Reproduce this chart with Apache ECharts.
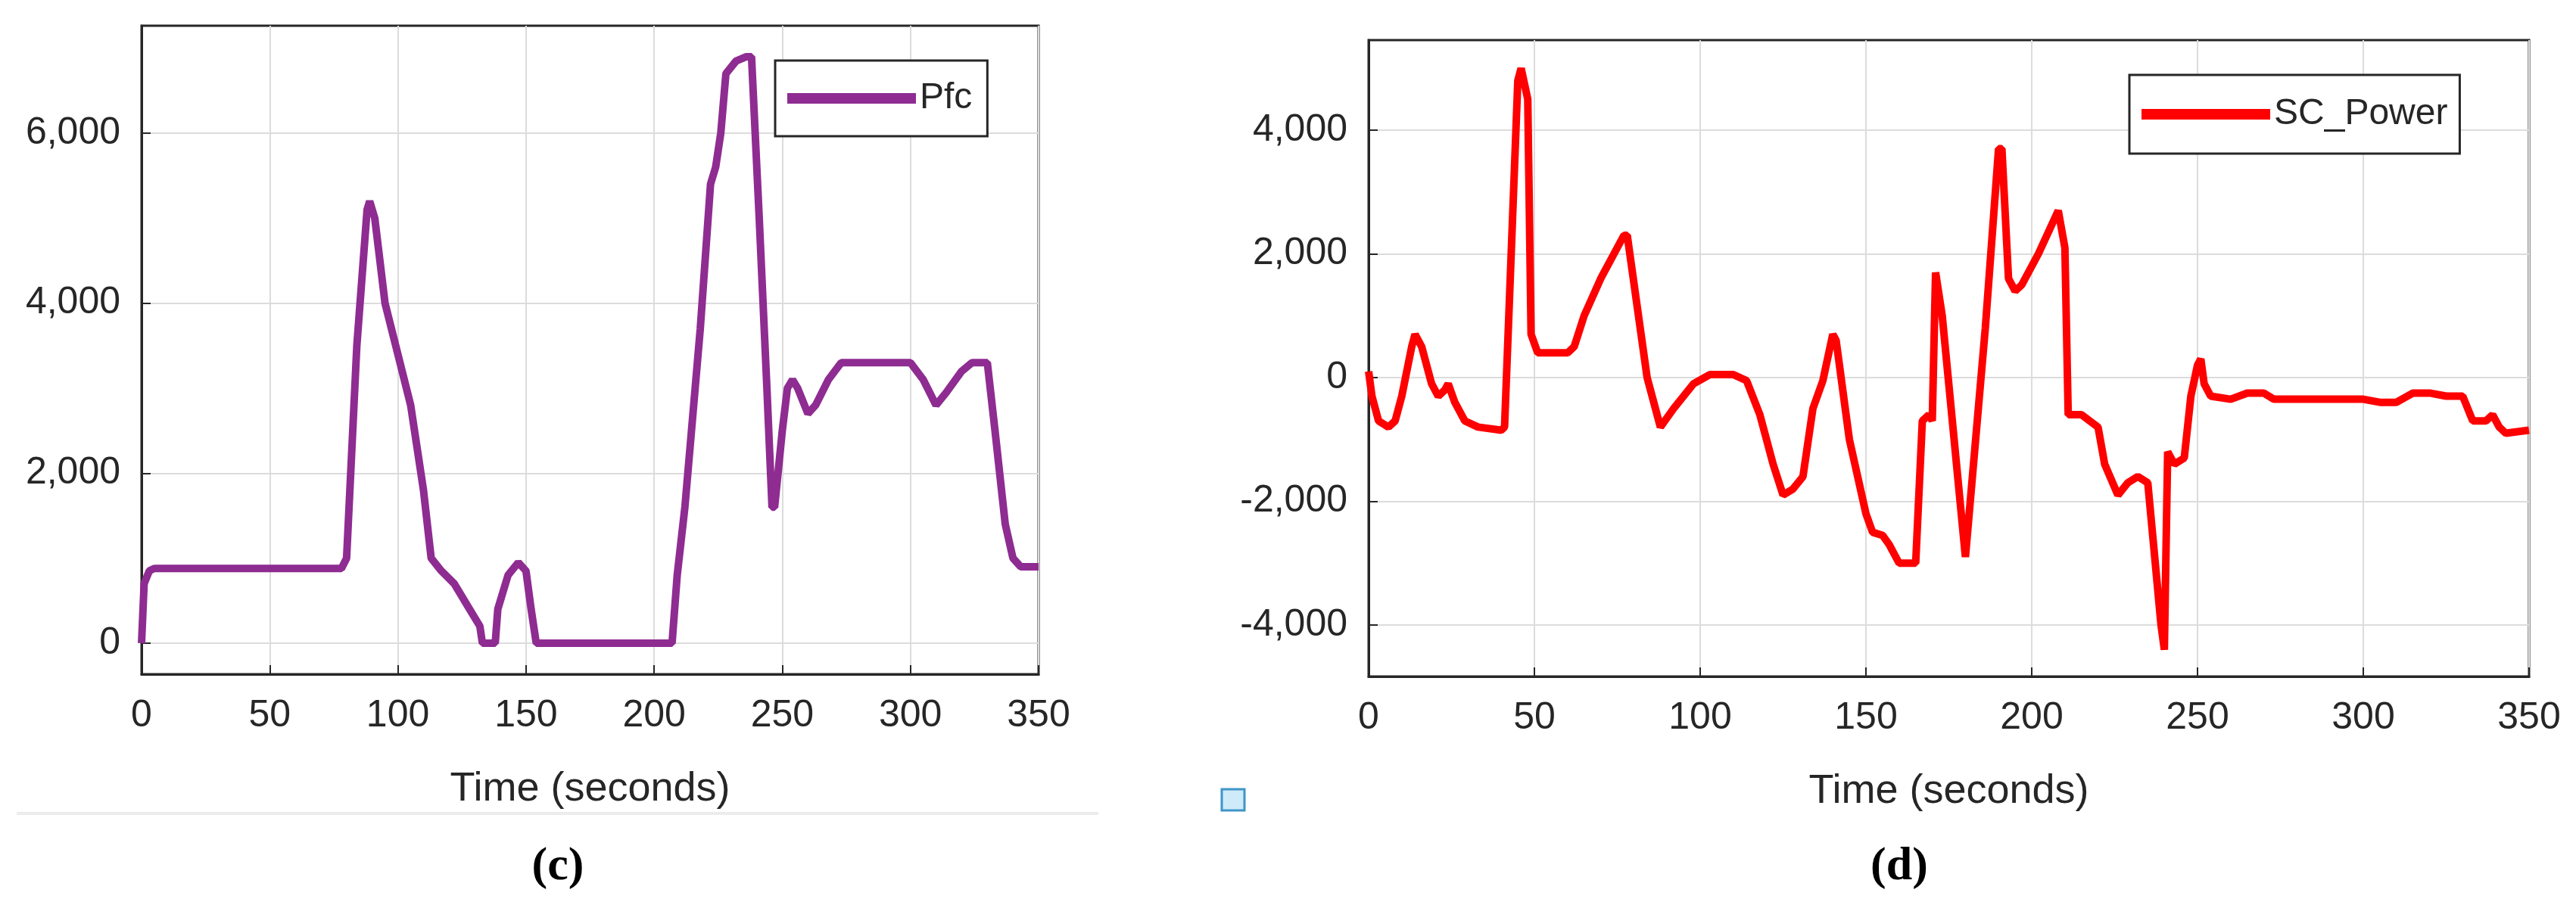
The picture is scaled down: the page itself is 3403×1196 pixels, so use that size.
<!DOCTYPE html>
<html><head><meta charset="utf-8">
<script src="https://cdn.jsdelivr.net/npm/echarts@6/dist/echarts.min.js"></script>
<style>html,body{margin:0;padding:0;background:#fff}#c{width:3403px;height:1196px}</style>
</head><body><div id="c"></div>
<script>
const xTicks = [0,50,100,150,200,250,300,350];
const pfcTicks = [0,2000,4000,6000];
const scTicks = [-4000,-2000,0,2000,4000];
const pfcT = [0,1,3,5,78,80,84,88,89,91,95,100,105,110,113,117,122,128,132,133,138,139,143,147,150,152,154,207,209,212,218,222,224,226,228,232,236,238,241,244,246,247,250,252,254,256,260,263,268,273,300,305,310,314,320,324,330,333,337,340,343,350];
const pfcV = [0,700,850,880,880,1000,3500,5100,5200,5000,4000,3400,2800,1800,1000,850,700,400,200,0,0,400,800,950,850,400,0,0,800,1600,3700,5400,5600,6000,6700,6850,6900,6900,5000,3000,1600,1600,2500,3000,3100,3000,2700,2800,3100,3300,3300,3100,2800,2950,3200,3300,3300,2500,1400,1000,900,900];
const scT = [0,1,3,6,8,10,13,14,16,19,21,23,24,26,29,33,40,41,43,45,46,48,49,51,60,62,65,70,77,78,84,88,92,98,103,110,114,118,122,125,128,131,134,137,140,141,145,150,152,155,157,160,165,167,169,170,171,173,180,186,190,191,193,195,197,202,208,210,211,215,220,222,226,229,232,235,239,240,241,243,246,248,250,251,252,254,260,265,270,273,300,305,310,315,320,325,330,333,337,339,341,343,350];
const scV = [100,-300,-700,-800,-700,-300,500,700,500,-100,-300,-200,-100,-400,-700,-800,-850,-800,2000,4800,5000,4500,700,400,400,500,1000,1600,2300,2300,0,-800,-500,-100,50,50,-50,-600,-1400,-1900,-1800,-1600,-500,-50,700,600,-1000,-2200,-2500,-2550,-2700,-3000,-3000,-700,-600,-700,1700,1000,-2900,800,3700,3700,1600,1400,1500,2000,2700,2100,-600,-600,-800,-1400,-1900,-1700,-1600,-1700,-4000,-4400,-1200,-1400,-1300,-300,200,300,-100,-300,-350,-250,-250,-350,-350,-400,-400,-250,-250,-300,-300,-700,-700,-600,-800,-900,-850];

const FONT = 'Liberation Sans';
const tc = '#262626';
function xAx(i){return {type:'value',gridIndex:i,min:0,max:350,
  axisLabel:{customValues:xTicks,fontSize:50,color:tc,fontFamily:FONT,margin:30},
  axisTick:{customValues:xTicks,inside:true,length:12,lineStyle:{color:'#262626',width:2}},
  axisLine:{onZero:false,lineStyle:{color:'#262626',width:3}},
  splitLine:{show:true,lineStyle:{color:'#dcdcdc',width:2}},
  name:'Time (seconds)',nameLocation:'middle',nameGap:125,
  nameTextStyle:{fontSize:54,color:tc,fontFamily:FONT}};}
function yAx(i,mn,mx,ticks){return {type:'value',gridIndex:i,min:mn,max:mx,
  axisLabel:{customValues:ticks,fontSize:50,color:tc,fontFamily:FONT,margin:28},
  axisTick:{customValues:ticks,inside:true,length:12,lineStyle:{color:'#262626',width:2}},
  axisLine:{show:true,lineStyle:{color:'#262626',width:3}},
  splitLine:{show:true,lineStyle:{color:'#dcdcdc',width:2}}};}

const chart = echarts.init(document.getElementById('c'));
chart.setOption({
  animation:false,
  grid:[{left:187,top:34,width:1185,height:857,show:true,borderColor:'#262626',borderWidth:3},
        {left:1808,top:53,width:1533,height:841,show:true,borderColor:'#262626',borderWidth:3}],
  xAxis:[xAx(0),xAx(1)],
  yAxis:[yAx(0,-365,7264,pfcTicks),yAx(1,-4832,5456,scTicks)],
  legend:[{data:['Pfc'],left:1024,top:80,width:303,height:82,padding:[26,20,26,16],
    borderColor:'#262626',borderWidth:3,backgroundColor:'#fff',itemWidth:170,itemHeight:14,icon:'rect',
    textStyle:{fontSize:48,color:tc,fontFamily:FONT}},
   {data:['SC_Power'],left:2813,top:99,padding:[28,16,28,16],
    borderColor:'#262626',borderWidth:3,backgroundColor:'#fff',itemWidth:170,itemHeight:14,icon:'rect',
    textStyle:{fontSize:48,color:tc,fontFamily:FONT}}],
  series:[
    {name:'Pfc',type:'line',xAxisIndex:0,yAxisIndex:0,showSymbol:false,
     data:pfcT.map((t,i)=>[t,pfcV[i]]),lineStyle:{color:'#8e2c91',width:10},itemStyle:{color:'#8e2c91'}},
    {name:'SC_Power',type:'line',xAxisIndex:1,yAxisIndex:1,showSymbol:false,
     data:scT.map((t,i)=>[t,scV[i]]),lineStyle:{color:'#ff0000',width:10},itemStyle:{color:'#ff0000'}}
  ],
  graphic:[
    {type:'line',shape:{x1:22,y1:1075,x2:1451,y2:1075},style:{stroke:'#ececec',lineWidth:4}},
    {type:'rect',shape:{x:1614,y:1043,width:30,height:28},style:{fill:'#cfeaf8',stroke:'#3d95c8',lineWidth:3}},
    {type:'text',style:{text:'(c)',x:737,y:1146,align:'center',verticalAlign:'middle',font:'bold 62px "Liberation Serif"',fill:'#000'}},
    {type:'text',style:{text:'(d)',x:2509,y:1146,align:'center',verticalAlign:'middle',font:'bold 62px "Liberation Serif"',fill:'#000'}}
  ]
});
</script></body></html>
